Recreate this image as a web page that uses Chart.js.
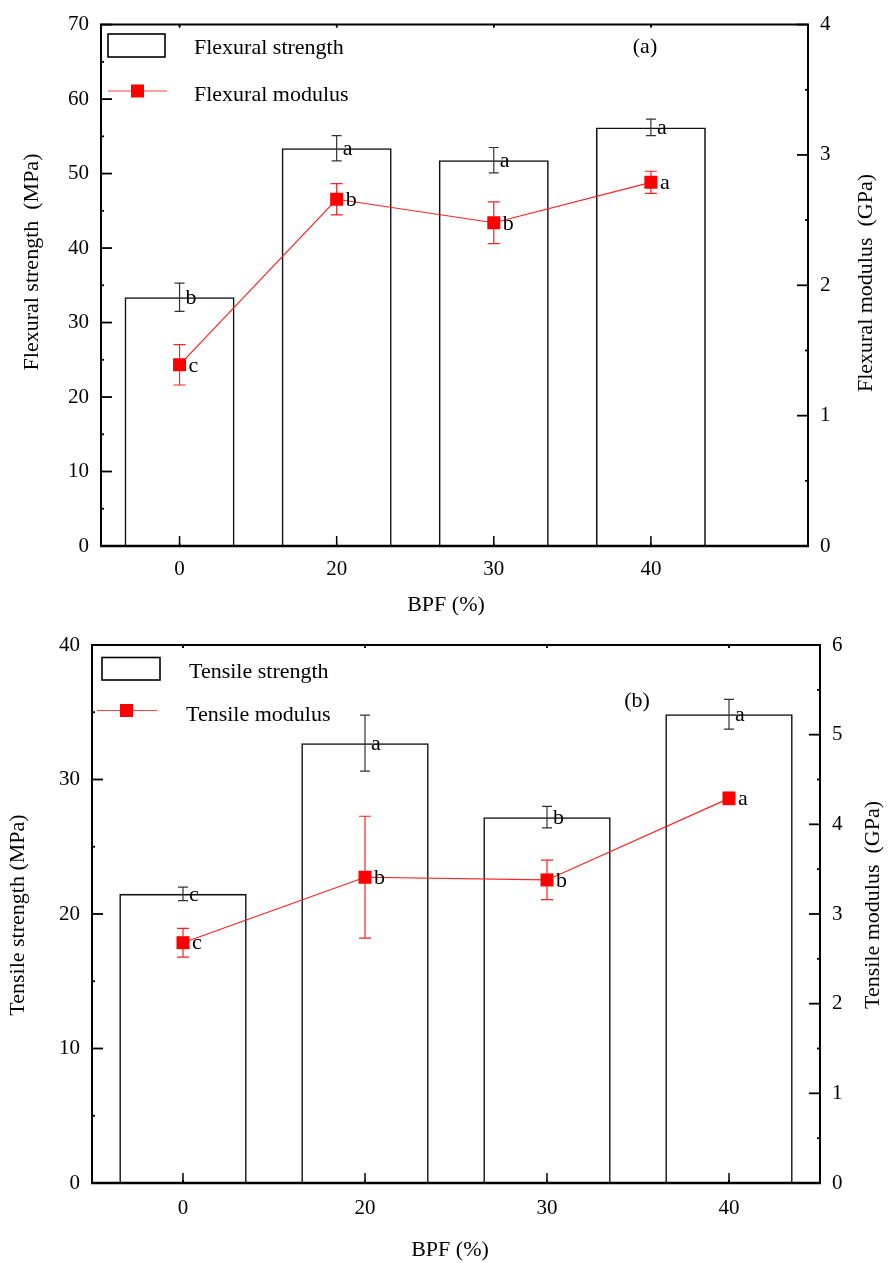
<!DOCTYPE html>
<html><head><meta charset="utf-8">
<script src="https://cdn.jsdelivr.net/npm/chart.js@4/dist/chart.umd.min.js"></script>
<style>
html,body{margin:0;padding:0;background:#fff;}
#wrap{position:relative;width:889px;height:1263px;background:#fff;}
.box{position:absolute;left:0;width:889px;}
canvas{display:block;}
</style></head><body>
<div id="wrap">
<div class="box" style="top:0;height:620px"><canvas id="c1" width="889" height="620"></canvas></div>
<div class="box" style="top:620px;height:643px"><canvas id="c2" width="889" height="643"></canvas></div>
</div>
<script>
// ---- data ----
const categories = ['0', '20', '30', '40'];

const flexStrength = [33.4, 53.4, 51.8, 56.2];
const flexStrengthErr = [1.9, 1.7, 1.7, 1.1];
const flexStrengthLetters = ['b', 'a', 'a', 'a'];
const flexModulus = [1.39, 2.66, 2.48, 2.79];
const flexModulusErr = [0.155, 0.12, 0.16, 0.085];
const flexModulusLetters = ['c', 'b', 'b', 'a'];

const tensStrength = [21.5, 32.7, 27.2, 34.85];
const tensStrengthErr = [0.5, 2.08, 0.8, 1.1];
const tensStrengthLetters = ['c', 'a', 'b', 'a'];
const tensModulus = [2.68, 3.41, 3.38, 4.29];
const tensModulusErr = [0.16, 0.68, 0.22, 0.07];
const tensModulusLetters = ['c', 'b', 'b', 'a'];

const leftTicksTop = [0, 10, 20, 30, 40, 50, 60, 70];
const rightTicksTop = [0, 1, 2, 3, 4];
const leftTicksBottom = [0, 10, 20, 30, 40];
const rightTicksBottom = [0, 1, 2, 3, 4, 5, 6];

const FONT = '"Liberation Serif", "Times New Roman", serif';

function makeChart(id, c) {
  const ctx = document.getElementById(id).getContext('2d');
  const plugin = {
    id: 'decor',
    beforeDatasetsDraw(chart) {
      const g = chart.ctx, x = chart.scales.x, y1 = chart.scales.y1;
      g.save();
      g.strokeStyle = '#ff2020'; g.lineWidth = 1.2;
      c.modulus.forEach((v, i) => {
        const px = x.getPixelForValue(i);
        const a = y1.getPixelForValue(v + c.modErr[i]), b = y1.getPixelForValue(v - c.modErr[i]);
        g.beginPath();
        g.moveTo(px, a); g.lineTo(px, b);
        g.moveTo(px - 6, a); g.lineTo(px + 6, a);
        g.moveTo(px - 6, b); g.lineTo(px + 6, b);
        g.stroke();
      });
      g.restore();
    },
    afterDatasetsDraw(chart) {
      const g = chart.ctx, x = chart.scales.x, y = chart.scales.y, y1 = chart.scales.y1;
      g.save();
      g.strokeStyle = '#333'; g.lineWidth = 1.2;
      c.strength.forEach((v, i) => {
        const px = x.getPixelForValue(i);
        const a = y.getPixelForValue(v + c.strErr[i]), b = y.getPixelForValue(v - c.strErr[i]);
        g.beginPath();
        g.moveTo(px, a); g.lineTo(px, b);
        g.moveTo(px - 5, a); g.lineTo(px + 5, a);
        g.moveTo(px - 5, b); g.lineTo(px + 5, b);
        g.stroke();
      });
      g.fillStyle = '#000';
      g.font = '22px ' + FONT;
      g.textAlign = 'left'; g.textBaseline = 'middle';
      c.strength.forEach((v, i) => {
        g.fillText(c.strLetters[i], x.getPixelForValue(i) + 6, y.getPixelForValue(v) + 1);
      });
      c.modulus.forEach((v, i) => {
        g.fillText(c.modLetters[i], x.getPixelForValue(i) + 9, y1.getPixelForValue(v) + 1);
      });
      g.restore();
    },
    afterDraw(chart) {
      const g = chart.ctx, a = chart.chartArea;
      const x = chart.scales.x, y = chart.scales.y, y1 = chart.scales.y1;
      g.save();
      g.strokeStyle = '#000';
      // frame
      g.lineWidth = 2;
      g.beginPath();
      g.moveTo(a.left, a.top); g.lineTo(a.right, a.top);
      g.moveTo(a.left, a.top - 1); g.lineTo(a.left, a.bottom + 1);
      g.moveTo(a.right, a.top - 1); g.lineTo(a.right, a.bottom + 1);
      g.stroke();
      g.lineWidth = 2.5;
      g.beginPath(); g.moveTo(a.left - 1, a.bottom); g.lineTo(a.right + 1, a.bottom); g.stroke();
      // y ticks
      g.lineWidth = 1.8;
      const lt = y.ticks.map(t => t.value);
      for (let k = 0; k < lt.length; k++) {
        const py = y.getPixelForValue(lt[k]);
        g.beginPath(); g.moveTo(a.left, py); g.lineTo(a.left + 11, py); g.stroke();
        if (k < lt.length - 1) {
          const pm = y.getPixelForValue((lt[k] + lt[k + 1]) / 2);
          g.beginPath(); g.moveTo(a.left, pm); g.lineTo(a.left + 3, pm); g.stroke();
        }
      }
      const rt = y1.ticks.map(t => t.value);
      for (let k = 0; k < rt.length; k++) {
        const py = y1.getPixelForValue(rt[k]);
        g.beginPath(); g.moveTo(a.right, py); g.lineTo(a.right - 11, py); g.stroke();
        if (k < rt.length - 1) {
          const pm = y1.getPixelForValue((rt[k] + rt[k + 1]) / 2);
          g.beginPath(); g.moveTo(a.right, pm); g.lineTo(a.right - 3, pm); g.stroke();
        }
      }
      // x ticks
      g.lineWidth = 1.5;
      categories.forEach((cat, i) => {
        const px = x.getPixelForValue(i);
        g.beginPath(); g.moveTo(px, a.bottom); g.lineTo(px, a.bottom - 10); g.stroke();
        g.beginPath(); g.moveTo(px, a.top); g.lineTo(px, a.top + 3); g.stroke();
      });
      for (let v = x.min + 0.5; v < x.max; v += 1) {
        const pm = x.getPixelForValue(v);
        g.beginPath(); g.moveTo(pm, a.bottom); g.lineTo(pm, a.bottom - 3); g.stroke();
        g.beginPath(); g.moveTo(pm, a.top); g.lineTo(pm, a.top + 3); g.stroke();
      }
      // legend
      const L = c.legend;
      g.lineWidth = 1.6;
      g.strokeRect(L.boxX, L.boxY, L.boxW, L.boxH);
      g.fillStyle = '#000';
      g.font = '22px ' + FONT;
      g.textAlign = 'left'; g.textBaseline = 'middle';
      g.fillText(L.t1, L.t1x, L.t1y);
      g.fillText(L.t2, L.t2x, L.t2y);
      g.strokeStyle = '#ff4040'; g.lineWidth = 1.2;
      g.beginPath(); g.moveTo(L.lx1, L.ly); g.lineTo(L.lx2, L.ly); g.stroke();
      g.fillStyle = '#ff0000';
      g.fillRect(L.mx - 6.5, L.ly - 6.5, 13, 13);
      // panel label
      g.fillStyle = '#000';
      g.textAlign = 'center';
      g.fillText(c.panel, c.panelX, c.panelY);
      // axis titles
      g.font = '22px ' + FONT;
      g.fillText('BPF (%)', c.xTitleX, c.xTitleY);
      g.save();
      g.translate(c.lTitleX, c.lTitleY); g.rotate(-Math.PI / 2);
      g.fillText(c.lTitle, 0, 0);
      g.restore();
      g.save();
      g.translate(c.rTitleX, c.rTitleY); g.rotate(-Math.PI / 2);
      g.fillText(c.rTitle, 0, 0);
      g.restore();
      g.restore();
    }
  };

  return new Chart(ctx, {
    data: {
      datasets: [
        {
          type: 'line', label: c.legend.t2, yAxisID: 'y1', xAxisID: 'x', order: 0,
          data: categories.map((cat, i) => ({ x: i, y: c.modulus[i] })),
          borderColor: '#ff2020', borderWidth: 1.2, backgroundColor: '#ff0000',
          pointStyle: 'rect', pointRadius: 9.2, pointBorderWidth: 0, pointBorderColor: '#ff0000',
          tension: 0, fill: false
        },
        {
          type: 'bar', label: c.legend.t1, yAxisID: 'y', xAxisID: 'x', order: 1,
          data: categories.map((cat, i) => ({ x: i, y: c.strength[i] })),
          backgroundColor: 'rgba(0,0,0,0)', borderColor: '#111', borderWidth: 1.6,
          categoryPercentage: 1, barPercentage: 0.7
        }
      ]
    },
    options: {
      responsive: false, animation: false,
      layout: { padding: { top: c.padTop, left: 0, right: 0, bottom: 0 } },
      plugins: { legend: { display: false }, tooltip: { enabled: false } },
      scales: {
        x: {
          type: 'linear', position: 'bottom', min: -0.5, max: c.xMax, offset: false,
          grid: { display: false, drawTicks: false, offset: false }, border: { display: false },
          afterBuildTicks: s => { s.ticks = categories.map((cat, i) => ({ value: i })); },
          ticks: {
            autoSkip: false, maxRotation: 0, padding: c.xPad, color: '#000',
            font: { family: FONT, size: 21 },
            callback: v => (categories[v] !== undefined ? categories[v] : '')
          },
          afterFit: s => { s.height = c.xHeight; }
        },
        y: {
          type: 'linear', position: 'left', min: 0, max: c.leftMax,
          grid: { display: false, drawTicks: false }, border: { display: false },
          afterBuildTicks: s => { s.ticks = c.leftTicks.map(v => ({ value: v })); },
          ticks: { padding: 12, color: '#000', font: { family: FONT, size: 21 } },
          afterFit: s => { s.width = c.leftW; }
        },
        y1: {
          type: 'linear', position: 'right', min: 0, max: c.rightMax,
          grid: { display: false, drawTicks: false }, border: { display: false },
          afterBuildTicks: s => { s.ticks = c.rightTicks.map(v => ({ value: v })); },
          ticks: { padding: 12, color: '#000', font: { family: FONT, size: 21 } },
          afterFit: s => { s.width = c.rightW; }
        }
      }
    },
    plugins: [plugin]
  });
}

makeChart('c1', {
  strength: flexStrength, strErr: flexStrengthErr, strLetters: flexStrengthLetters,
  modulus: flexModulus, modErr: flexModulusErr, modLetters: flexModulusLetters,
  leftTicks: leftTicksTop, rightTicks: rightTicksTop, leftMax: 70, rightMax: 4, xMax: 4,
  leftW: 101, rightW: 81, xHeight: 74, padTop: 20, xPad: 11,
  legend: { boxX: 108, boxY: 34, boxW: 57, boxH: 23, t1: 'Flexural strength', t1x: 194, t1y: 48,
            t2: 'Flexural modulus', t2x: 194, t2y: 95, lx1: 108, lx2: 167, ly: 91, mx: 137.5 },
  panel: '(a)', panelX: 645, panelY: 47,
  xTitleX: 446, xTitleY: 605,
  lTitle: 'Flexural strength  (MPa)', lTitleX: 32, lTitleY: 262,
  rTitle: 'Flexural modulus  (GPa)', rTitleX: 866, rTitleY: 283
});

makeChart('c2', {
  strength: tensStrength, strErr: tensStrengthErr, strLetters: tensStrengthLetters,
  modulus: tensModulus, modErr: tensModulusErr, modLetters: tensModulusLetters,
  leftTicks: leftTicksBottom, rightTicks: rightTicksBottom, leftMax: 40, rightMax: 6, xMax: 3.5,
  leftW: 92, rightW: 69, xHeight: 80, padTop: 25, xPad: 13,
  legend: { boxX: 102, boxY: 37.5, boxW: 58, boxH: 22.5, t1: 'Tensile strength', t1x: 189, t1y: 52,
            t2: 'Tensile modulus', t2x: 186, t2y: 95, lx1: 97, lx2: 157, ly: 90.5, mx: 126.5 },
  panel: '(b)', panelX: 637, panelY: 81,
  xTitleX: 450, xTitleY: 630,
  lTitle: 'Tensile strength (MPa)', lTitleX: 18, lTitleY: 295,
  rTitle: 'Tensile modulus  (GPa)', rTitleX: 873, rTitleY: 285
});
</script>
</body></html>
